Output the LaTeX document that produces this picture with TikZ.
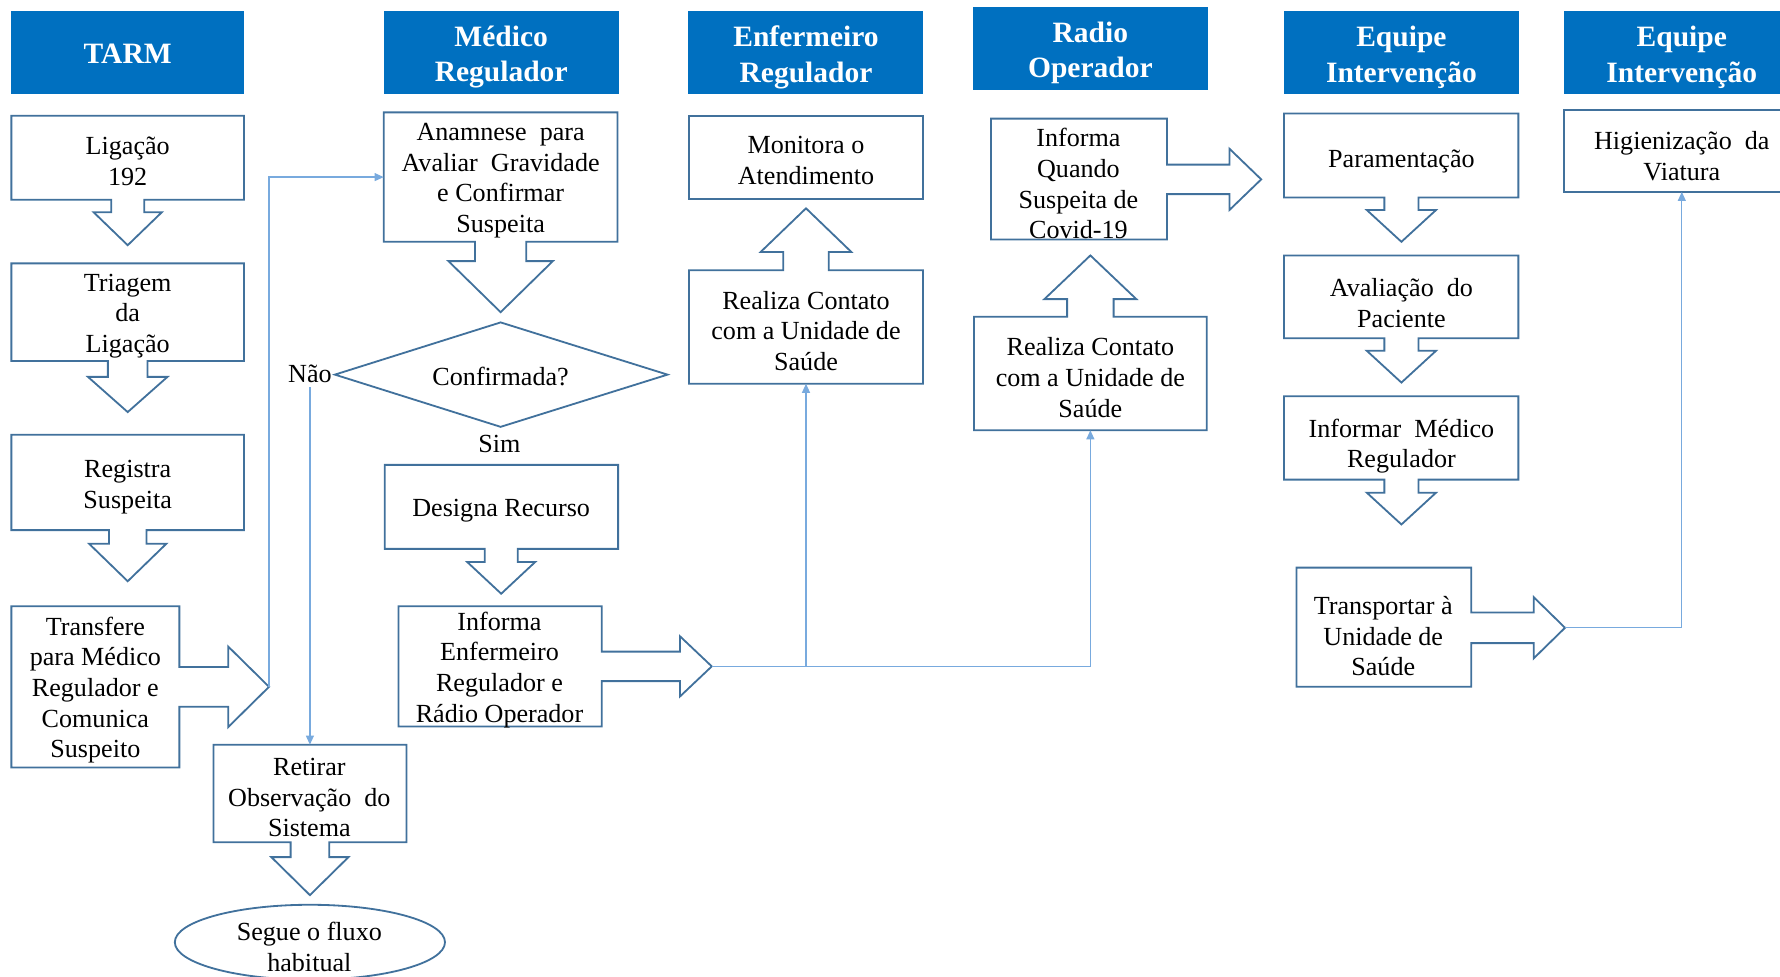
\documentclass[tikz,border=0pt]{standalone}
\usepackage{fontspec}
\setmainfont{Liberation Serif}
\usetikzlibrary{arrows.meta}
\definecolor{hdrblue}{RGB}{0,112,192}
\definecolor{bxline}{RGB}{65,113,156}
\definecolor{connc}{RGB}{120,170,222}
\tikzset{
  bx/.style={draw=bxline, line width=1.6pt, fill=white, line join=miter},
  hdr/.style={fill=hdrblue},
  htxt/.style={text=white, font=\fontsize{26}{31}\selectfont\bfseries, align=center, inner sep=0pt, yshift=-3pt},
  txt/.style={font=\fontsize{23}{27}\selectfont, align=center, inner sep=0pt, yshift=-2.5pt},
  conn/.style={draw=connc, line width=1.1pt, -{Triangle[length=8pt,width=7pt]}},
  connplain/.style={draw=connc, line width=1.1pt}
}
% #1 cx, #2 x1, #3 x2, #4 ytop, #5 ybot, #6 stem half, #7 head half, #8 shoulder y, #9 tip y
\newcommand\DownBox[9]{\draw[bx] (#2,#4) -- (#3,#4) -- (#3,#5) -- ({#1+#6},#5) -- ({#1+#6},#8) -- ({#1+#7},#8) -- (#1,#9) -- ({#1-#7},#8) -- ({#1-#6},#8) -- ({#1-#6},#5) -- (#2,#5) -- cycle;}
\newcommand\UpBox[9]{\draw[bx] (#2,#5) -- (#3,#5) -- (#3,#4) -- ({#1+#6},#4) -- ({#1+#6},#8) -- ({#1+#7},#8) -- (#1,#9) -- ({#1-#7},#8) -- ({#1-#6},#8) -- ({#1-#6},#4) -- (#2,#4) -- cycle;}
% #1 cy, #2 x1, #3 x2, #4 ytop, #5 ybot, #6 stem half, #7 head half, #8 shoulder x, #9 tip x
\newcommand\RightBox[9]{\draw[bx] (#2,#4) -- (#3,#4) -- (#3,{#1-#6}) -- (#8,{#1-#6}) -- (#8,{#1-#7}) -- (#9,#1) -- (#8,{#1+#7}) -- (#8,{#1+#6}) -- (#3,{#1+#6}) -- (#3,#5) -- (#2,#5) -- cycle;}
\begin{document}
\begin{tikzpicture}[x=1pt,y=-1pt]
\useasboundingbox (0,0) rectangle (1568,860);
\clip (0,0) rectangle (1568,860);

% headers
\fill[hdr] (10,10) rectangle (215,83);
\node[htxt, yshift=3pt] (hTARM) at (112.5,47) {TARM};
\fill[hdr] (338,10) rectangle (545,83);
\node[htxt] (hMed) at (441.5,47.5) {Médico\\Regulador};
\fill[hdr] (606,10) rectangle (813,83);
\node[htxt] (hEnf) at (710,47.5) {Enfermeiro\\Regulador};
\fill[hdr] (857,6) rectangle (1064,79);
\node[htxt] (hRad) at (960.5,43.5) {Radio\\Operador};
\fill[hdr] (1131,10) rectangle (1338,83);
\node[htxt] (hEq1) at (1234.5,47.5) {Equipe\\Intervenção};
\fill[hdr] (1378,10) rectangle (1585,83);
\node[htxt] (hEq2) at (1481.5,47.5) {Equipe\\Intervenção};

% TARM column
\DownBox{112.5}{10}{215}{102}{176}{14.5}{30}{187}{216}
\node[txt] (lig) at (112.5,139.5) {Ligação\\192};
\DownBox{112.5}{10}{215}{232}{318}{17.5}{35}{332}{363}
\node[txt] (tri) at (112.5,276) {Triagem\\da\\Ligação};
\DownBox{112.5}{10}{215}{383}{467}{16.5}{34}{479}{512}
\node[txt] (reg) at (112.5,426.5) {Registra\\Suspeita};
\RightBox{605}{10}{158}{534}{676}{17.5}{35.5}{201}{237}
\node[txt] (trf) at (84,605.5) {Transfere\\para Médico\\Regulador e\\Comunica\\Suspeito};

% Medico column
\DownBox{441}{338}{544}{99}{213}{22.5}{46}{230}{275}
\node[txt] (ana) at (441,156.5) {Anamnese\enspace para\\Avaliar\enspace Gravidade\\e Confirmar\\Suspeita};
\draw[bx] (441,284) -- (588,330) -- (441,376) -- (295,330) -- cycle;
\node[txt, yshift=1.5pt] (conf) at (441,331) {Confirmada?};
\node[txt, yshift=2.5pt] (nao) at (273,329) {Não};
\node[txt, yshift=1.5pt] (sim) at (440,390) {Sim};
\DownBox{441.5}{339}{544.5}{409.5}{483.5}{14.5}{30}{495}{523}
\node[txt] (des) at (441.5,447) {Designa Recurso};
\RightBox{587}{351}{530}{534}{640}{13}{26.5}{599}{627}
\node[txt] (infE) at (440,587.5) {Informa\\Enfermeiro\\Regulador e\\Rádio Operador};
\DownBox{273}{188}{358}{656}{742}{17}{34}{755}{788.5}
\node[txt] (ret) at (272.5,700) {Retirar\\Observação\enspace do\\Sistema};
\draw[bx] (273,830) ellipse [x radius=119, y radius=33];
\node[txt] (seg) at (272.5,831.5) {Segue o fluxo\\habitual};

% Enfermeiro column
\draw[bx] (607,102) rectangle (813,175);
\node[txt] (mon) at (710,139) {Monitora o\\Atendimento};
\UpBox{710}{607}{813}{238}{338}{20}{40}{222}{183.5}
\node[txt] (rea1) at (710,289) {Realiza Contato\\com a Unidade de\\Saúde};

% Radio column
\RightBox{158}{873}{1028}{104.5}{211}{13}{27}{1083}{1111}
\node[txt] (infQ) at (950,159.5) {Informa\\Quando\\Suspeita de\\Covid-19};
\UpBox{960.5}{858}{1063}{279}{379}{20.5}{40.5}{263.5}{225}
\node[txt] (rea2) at (960.5,330) {Realiza Contato\\com a Unidade de\\Saúde};

% Equipe column
\DownBox{1234.5}{1131}{1337.5}{100}{174}{15}{30.5}{185}{213}
\node[txt] (par) at (1234.5,140) {Paramentação};
\DownBox{1234.5}{1131}{1337.5}{225}{298}{15}{30.5}{309}{337}
\node[txt] (ava) at (1234.5,264.5) {Avaliação\enspace do\\Paciente};
\DownBox{1234.5}{1131}{1337.5}{349}{422.5}{15}{30.5}{434}{462}
\node[txt] (infM) at (1234.5,390.5) {Informar\enspace Médico\\Regulador};
\RightBox{553}{1142}{1296}{500}{605}{13.5}{27}{1351}{1378.6}
\node[txt] (trp) at (1218.5,558) {Transportar à\\Unidade de\\Saúde};
\draw[bx] (1378,97) rectangle (1590,169);
\node[txt] (hig) at (1481.5,135) {Higienização\enspace da\\Viatura};

% connector anchor points
\coordinate (tTrf) at (237,605);
\coordinate (anaW) at (338,156);
\coordinate (retN) at (273,656);
\coordinate (tInfE) at (627,587);
\coordinate (j1) at (710,587);
\coordinate (rea1S) at (710,338);
\coordinate (rea2S) at (960.5,379);
\coordinate (tTrp) at (1378.6,553);
\coordinate (higS) at (1481.5,169);

\draw[conn] (tTrf) |- (anaW);
\draw[conn] (nao.south) ++(0,4) -- (retN);
\draw[conn] (tInfE) -| (rea2S);
\draw[conn] (j1) -- (rea1S);
\draw[conn] (tTrp) -| (higS);
\end{tikzpicture}
\end{document}
